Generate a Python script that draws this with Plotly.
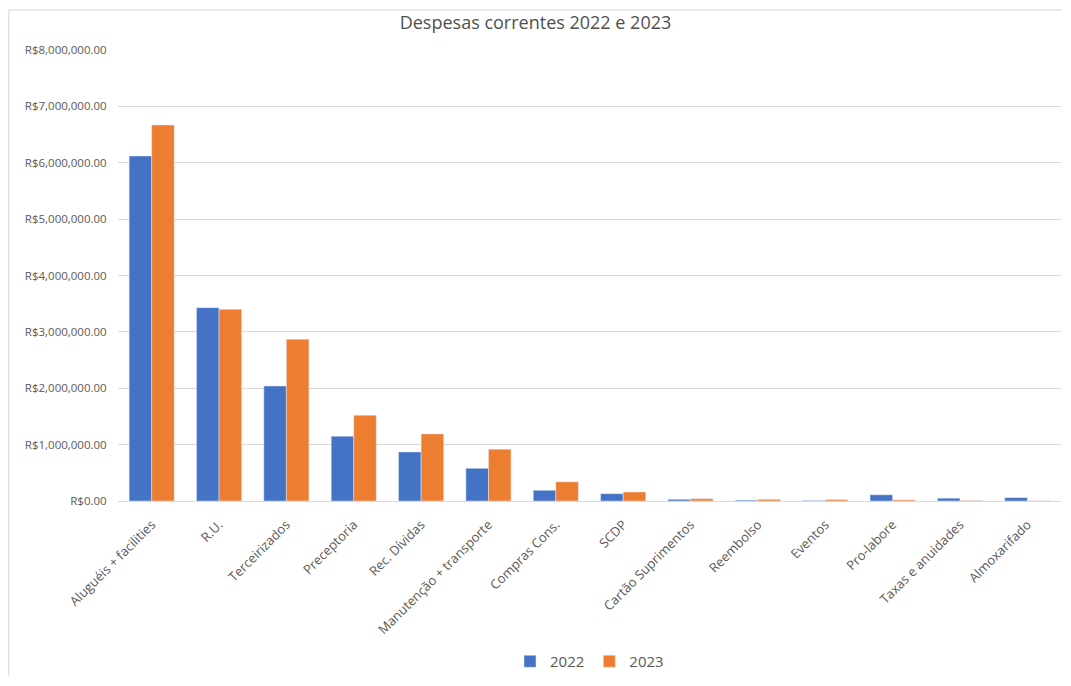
import plotly.graph_objects as go

categories = ["Aluguéis + facilities", "R.U.", "Terceirizados", "Preceptoria", "Rec. Dívidas",
              "Manutenção + transporte", "Compras Cons.", "SCDP", "Cartão Suprimentos", "Reembolso",
              "Eventos", "Pro-labore", "Taxas e anuidades", "Almoxarifado"]
values_2022 = [6120000, 3430000, 2040000, 1150000, 870000, 580000, 190000, 130000,
               30000, 15000, 10000, 110000, 50000, 60000]
values_2023 = [6670000, 3400000, 2870000, 1520000, 1190000, 920000, 340000, 160000,
               40000, 30000, 25000, 20000, 10000, 5000]

FONT = "Open Sans, Liberation Sans, sans-serif"
GRAY = "#595959"

fig = go.Figure()
fig.add_trace(go.Bar(name="2022", x=categories, y=values_2022, marker_color="#4472C4"))
fig.add_trace(go.Bar(name="2023", x=categories, y=values_2023, marker_color="#ED7D31"))

W, H = 1055, 670
L, R, T, B = 110, 2, 42, 176
pw, ph = W - L - R, H - T - B


def px(x):
    return (x - L) / pw


def py(y):
    return (T + ph - y) / ph


fig.update_layout(
    width=W, height=H,
    margin=dict(l=L, r=R, t=T, b=B),
    paper_bgcolor="white", plot_bgcolor="white",
    title=dict(text="Despesas correntes 2022 e 2023", x=0.5, xanchor="center", y=1 - 15 / H, yanchor="middle",
               font=dict(family=FONT, size=18, color="#505050")),
    barmode="group", bargap=0.33, bargroupgap=0,
    font=dict(family=FONT, color=GRAY),
    legend=dict(orientation="h", x=0.5, xanchor="center", y=py(670), yanchor="bottom",
                font=dict(size=15, color=GRAY), itemwidth=30, traceorder="normal"),
    xaxis=dict(tickangle=-45, tickfont=dict(size=13, color=GRAY), showline=True,
               linecolor="#D9D9D9", ticks="outside", ticklen=10, tickcolor="rgba(0,0,0,0)",
               automargin=False),
    yaxis=dict(range=[0, 8000000], dtick=1000000, tickprefix="R$", tickformat=",.2f",
               tickfont=dict(size=11.5, color=GRAY), gridcolor="#D9D9D9", zeroline=False,
               showline=False, automargin=False, ticks="outside", ticklen=8,
               tickcolor="rgba(0,0,0,0)"),
    shapes=[
        dict(type="line", xref="paper", yref="paper", x0=px(0.75), x1=px(0.75), y0=py(2), y1=py(H - 1),
             line=dict(color="#E3E3E3", width=1.5)),
        dict(type="line", xref="paper", yref="paper", x0=px(0.75), x1=px(W - 1), y0=py(2), y1=py(2),
             line=dict(color="#E3E3E3", width=1.5)),
    ],
)

fig.write_html("out.html")
